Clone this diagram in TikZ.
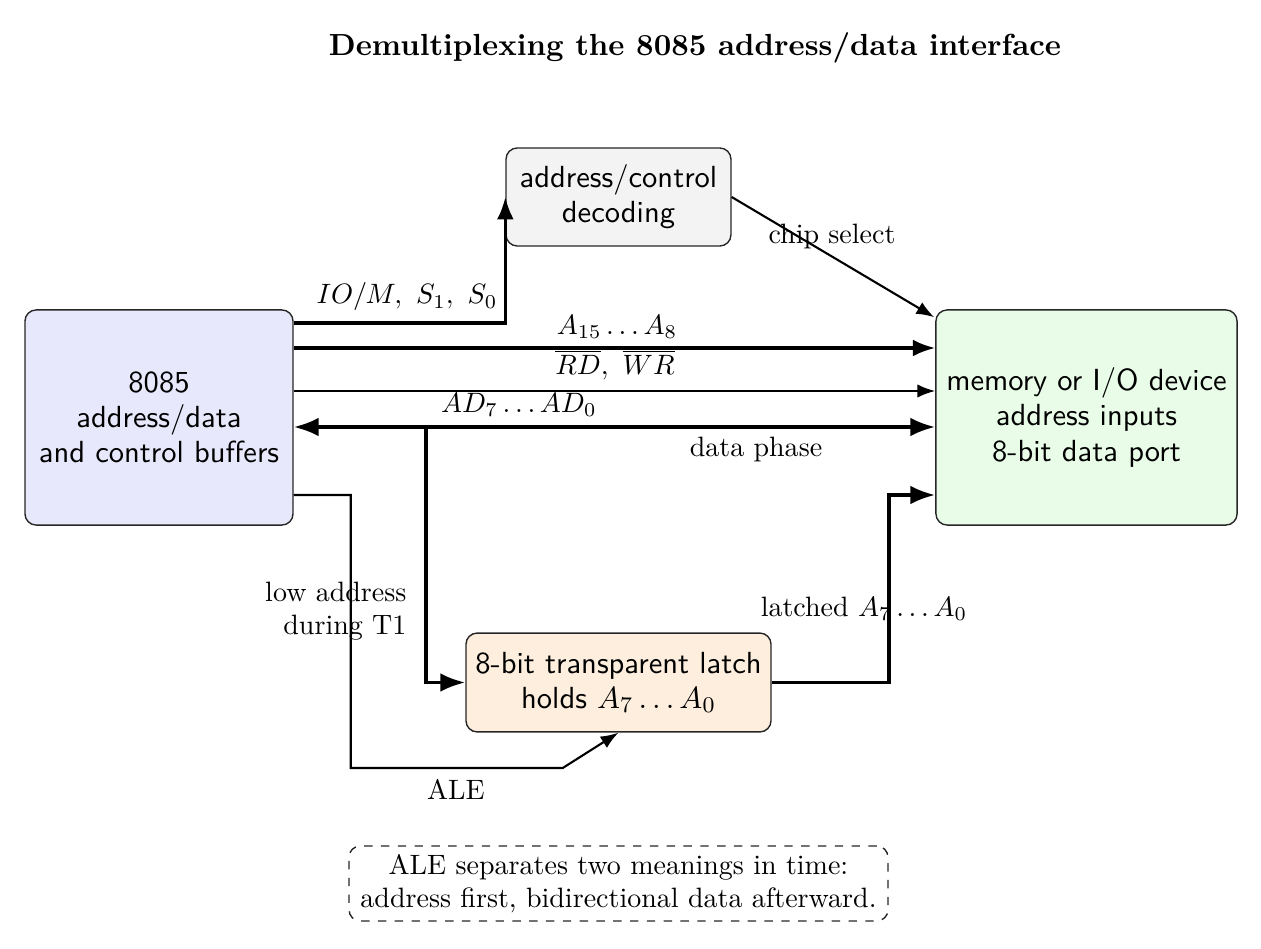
\documentclass[tikz,border=0pt]{standalone}
\usetikzlibrary{arrows.meta,calc}
\definecolor{cpufill}{HTML}{E8E8FC}
\definecolor{memfill}{HTML}{E8FCE8}
\definecolor{decfill}{HTML}{F3F3F3}
\definecolor{latchfill}{HTML}{FDEEDD}
\begin{document}
\begin{tikzpicture}[x=0.357pt,y=-0.357pt,
  blk/.style={draw=black!85,line width=0.5pt,rounded corners=4pt,align=center,font=\sffamily\fontsize{10.9}{12.5}\selectfont,inner sep=0pt},
  lbl/.style={font=\normalsize,inner sep=0pt},
  bus/.style={line width=1.1pt,-{Latex}},
  busbig/.style={line width=1.3pt,-{Latex}},
  sig/.style={line width=0.75pt,-{Latex}}]
\useasboundingbox (0,0) rectangle (1261,949);
\node[font=\fontsize{10.9}{13}\selectfont\bfseries,inner sep=0pt] (title) at (695,48) {Demultiplexing the 8085 address/data interface};
\node[blk,fill=cpufill,minimum width=95.7pt,minimum height=76.8pt] (cpu) at (159,417.5) {8085\\address/data\\and control buffers};
\node[blk,fill=decfill,minimum width=80.3pt,minimum height=35pt] (dec) at (618.5,197) {address/control\\decoding};
\node[blk,fill=memfill,minimum width=107.5pt,minimum height=76.8pt] (mem) at (1086.5,417.5) {memory or I/O device\\address inputs\\8-bit data port};
\node[blk,fill=latchfill,minimum width=108.9pt,minimum height=35.3pt] (latch) at (618.5,682.5) {8-bit transparent latch\\holds $A_7\dots A_0$};
\node[draw=black!85,line width=0.5pt,dashed,rounded corners=4pt,align=center,inner sep=0pt,minimum width=192.4pt,minimum height=26.8pt] (note) at (618.5,883.5) {ALE separates two meanings in time:\\address first, bidirectional data afterward.};

% IO/M
\draw[bus] ([shift={(0,-94.5)}]cpu.east) -| (dec.west);
% A15..A8
\draw[bus] ([shift={(0,-69.5)}]cpu.east) coordinate (ah) -- (ah -| mem.west);
% RD WR
\draw[sig] ([shift={(0,-26.5)}]cpu.east) coordinate (rw) -- (rw -| mem.west);
% AD bus
\draw[busbig,{Latex}-{Latex}] ([shift={(0,9.5)}]cpu.east) coordinate (ad) -- (ad -| mem.west);
\coordinate (tap) at ([shift={(132,9.5)}]cpu.east);
\draw[busbig] (tap) |- (latch.west);
% ALE
\draw[sig] ([shift={(0,77.5)}]cpu.east) -- ++(57,0) -- ++(0,273) -- ++(212,0) -- (latch.south);
% latched
\draw[busbig] (latch.east) -- ++(117,0) |- ([shift={(0,77.5)}]mem.west);
% chip select
\draw[sig] (dec.east) -- ([shift={(-1,8)}]mem.north west);

% labels
\node[lbl] (l1) at (407,297) {$IO/M,\ S_1,\ S_0$};
\node[lbl] (l2) at (617,327) {$A_{15}\dots A_8$};
\node[lbl,anchor=base] (l3) at (615,375) {$\overline{RD},\ \overline{WR}$};
\node[lbl] (l4) at (519,405) {$AD_7\dots AD_0$};
\node[lbl] (l5) at (756,449) {data phase};
\node[lbl,align=right,anchor=east] (l6) at (407,611) {low address\\during T1};
\node[lbl] (l7) at (456,789) {ALE};
\node[lbl] (l8) at (864,609) {latched $A_7\dots A_0$};
\node[lbl] (l9) at (832,236) {chip select};
\end{tikzpicture}
\end{document}
